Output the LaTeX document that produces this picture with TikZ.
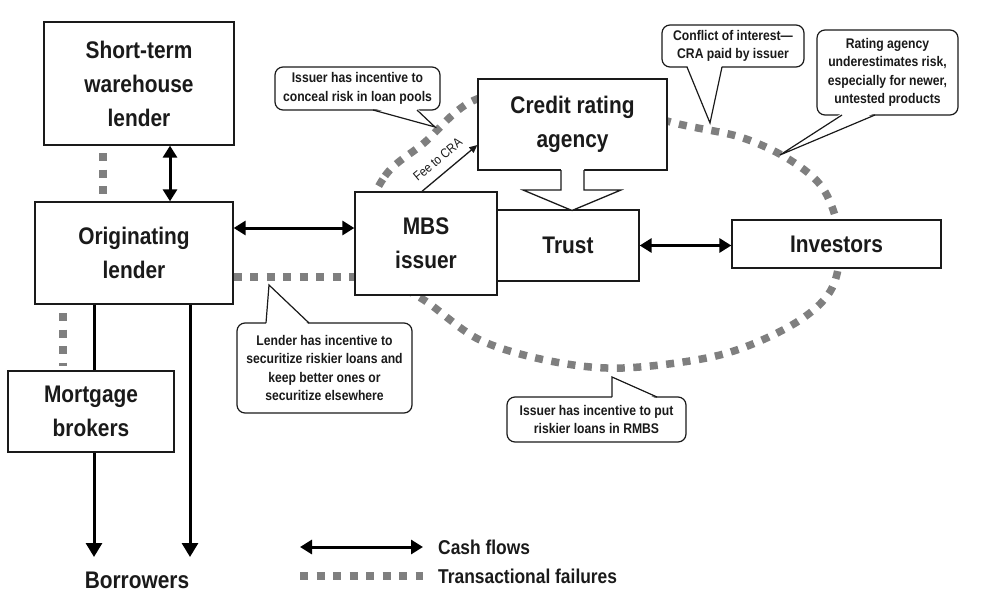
\documentclass[tikz,border=0pt]{standalone}
\usepackage{fontspec}
\setmainfont{Liberation Sans}[FakeStretch=0.87]
\usetikzlibrary{arrows.meta,calc}
\definecolor{failgray}{HTML}{7F7F7F}
\definecolor{ink}{HTML}{1A1A1A}
\begin{document}
\begin{tikzpicture}[x=1pt,y=-1pt,
  box/.style={draw=ink, line width=1.3pt, fill=white, inner sep=0pt, align=center, text=ink,
    font=\fontsize{24}{34}\selectfont\bfseries},
  callout/.style={draw=ink, line width=1.2pt, fill=white, rounded corners=8pt, inner sep=0pt,
    align=center, text=ink, font=\fontsize{14}{18.5}\selectfont\bfseries},
  cash/.style={draw=black, line width=3pt, {Triangle[length=12pt,width=14pt]}-{Triangle[length=12pt,width=14pt]}},
  flowdown/.style={draw=black, line width=3pt, -{Triangle[length=14pt,width=16pt]}},
  plainflow/.style={draw=black, line width=3pt},
  fail/.style={draw=failgray, line width=7.5pt, dash pattern=on 8pt off 8.5pt},
  ptr/.style={draw=ink, line width=1.2pt},
  legendtxt/.style={anchor=west, inner sep=0pt, text=ink, font=\fontsize{20}{24}\selectfont\bfseries},
]
\useasboundingbox (0,0) rectangle (982,610);

% transactional failure loop
\draw[fail] plot[smooth cycle, tension=0.55] coordinates {
  (362,232) (385,176) (424,143) (477,99) (570,88) (667,121) (740,137) (790,160)
  (824,190) (840,240) (831,290) (792,325) (720,355) (623,368) (550,361) (480,340)
  (427,302) (385,275)};

% boxes
\node[box, minimum width=190pt, minimum height=123pt] (wh) at (139,83.5) {Short-term\\warehouse\\lender};
\node[box, minimum width=198pt, minimum height=102pt] (orig) at (134,253) {Originating\\lender};
\node[box, minimum width=142pt, minimum height=103pt] (mbs) at (426,243.5) {MBS\\issuer};
\node[box, minimum width=142pt, minimum height=71pt] (trust) at (568,245.5) {Trust};
\node[box, minimum width=189pt, minimum height=91pt] (cra) at (572.5,124.5) {Credit rating\\agency};
\node[box, minimum width=209pt, minimum height=48pt] (inv) at (836.5,244) {Investors};
\node[box, minimum width=166pt, minimum height=81pt] (brk) at (91,411.5) {Mortgage\\brokers};
\node[inner sep=0pt, text=ink, font=\fontsize{24}{28}\selectfont\bfseries] (bor) at (137,580) {Borrowers};
\coordinate (b1) at (94,557);
\coordinate (b2) at (190,557);

% dotted failures between boxes
\draw[fail] (103,153) -- (103,196);
\draw[fail] (63,313) -- (63,366);
\draw[fail] (orig.east |- 0,277) -- (mbs.west |- 0,277);

% hollow arrow CRA -> Trust
\fill[white] (561,169) -- (561,190) -- (523,190) -- (572,210) -- (621,190) -- (584,190) -- (584,169) -- cycle;
\draw[line width=1.3pt, draw=ink, line join=miter] (561,170) -- (561,190) -- (523,190) -- (572,210.5) -- (621,190) -- (584,190) -- (584,170);

% cash flows
\draw[cash] (170,0 |- wh.south) -- (170,0 |- orig.north);
\draw[cash] (orig.east |- 0,228) -- (mbs.west |- 0,228);
\draw[cash] (trust.east) -- (inv.west |- trust.east);
\draw[plainflow] (94,0 |- orig.south) -- (94,0 |- brk.north);
\draw[flowdown] (94,0 |- brk.south) -- (b1);
\draw[flowdown] (190,0 |- orig.south) -- (b2);
\draw[draw=ink, line width=1.3pt, -{Triangle[length=8pt,width=7pt]}] (422,0 |- mbs.north) -- (cra.west |- 0,145)
  node[pos=0.45, sloped, above=9pt, inner sep=0pt, text=ink, font=\fontsize{13}{15}\selectfont] (fee) {Fee to CRA};

% callouts
\node[callout, minimum width=165pt, minimum height=43pt] (c1) at (357.5,88.5) {Issuer has incentive to\\conceal risk in loan pools};
\coordinate (t1) at (435,127);
\fill[white] (373,108) -- (t1) -- (417,108) -- cycle;
\draw[ptr] (373,110) -- (t1) -- (417,110);

\node[callout, minimum width=142pt, minimum height=42pt] (c2) at (733,46) {Conflict of interest—\\CRA paid by issuer};
\coordinate (t2) at (710,123);
\fill[white] (687,65) -- (t2) -- (722,65) -- cycle;
\draw[ptr] (687,67) -- (t2) -- (722,67);

\node[callout, minimum width=141pt, minimum height=85pt] (c3) at (887.5,72.5) {Rating agency\\underestimates risk,\\especially for newer,\\untested products};
\coordinate (t3) at (780,155);
\fill[white] (842,113) -- (t3) -- (875,113) -- cycle;
\draw[ptr] (842,115) -- (t3) -- (875,115);

\node[callout, minimum width=175pt, minimum height=90pt] (c4) at (324.5,368) {Lender has incentive to\\securitize riskier loans and\\keep better ones or\\securitize elsewhere};
\coordinate (t4) at (269,285);
\fill[white] (266,325) -- (t4) -- (309,325) -- cycle;
\draw[ptr] (266,323) -- (t4) -- (309,323);

\node[callout, minimum width=179pt, minimum height=45pt] (c5) at (596.5,419.5) {Issuer has incentive to put\\riskier loans in RMBS};
\coordinate (t5) at (612,377);
\fill[white] (612,399) -- (t5) -- (657,399) -- cycle;
\draw[ptr] (612,397) -- (t5) -- (657,397);

% legend
\coordinate (l1a) at (300,547);
\coordinate (l1b) at (423,547);
\coordinate (l2a) at (300,576);
\coordinate (l2b) at (423,576);
\draw[cash] (l1a) -- (l1b);
\node[legendtxt] (lcash) at (438,547) {Cash flows};
\draw[fail] (l2a) -- (l2b);
\node[legendtxt] (lfail) at (438,576) {Transactional failures};
\end{tikzpicture}
\end{document}
